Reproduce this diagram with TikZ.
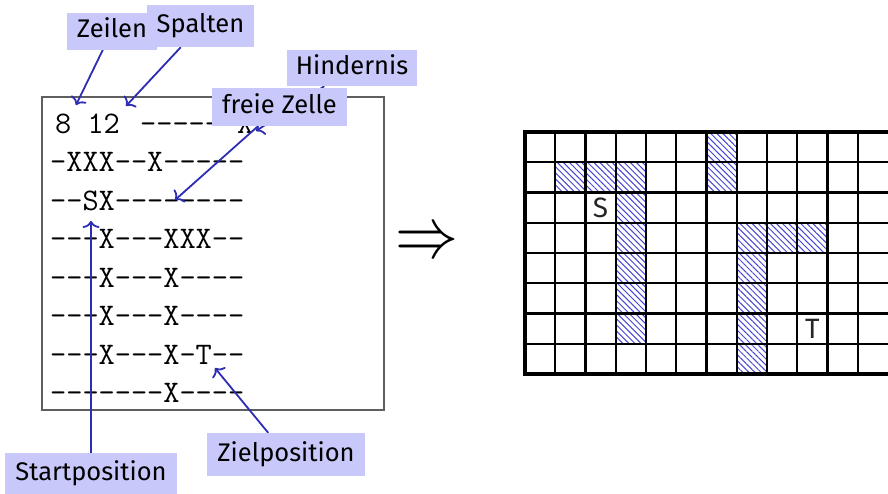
\documentclass[tikz,border=0pt]{standalone}
\usepackage{fontspec}
\usepackage{graphicx}
\setmainfont{Fira Sans}
\usetikzlibrary{arrows.meta,patterns.meta}

\definecolor{lblfill}{RGB}{200,200,250}
\definecolor{calloutblue}{RGB}{45,45,180}
\definecolor{hatchblue}{RGB}{70,70,210}
\definecolor{framegray}{RGB}{95,95,95}

\pgfdeclarelayer{foreground}
\pgfsetlayers{main,foreground}

\tikzset{
  lbl/.style={fill=lblfill, inner sep=0pt, text height=18.5pt, text depth=5.5pt,
    font=\fontsize{25.5}{25.5}\selectfont},
  callout/.style={draw=calloutblue, line width=1.8pt, -{To[length=7pt,width=17pt]}},
  maprow/.style={anchor=base west, inner sep=0pt,
    font=\ttfamily\fontsize{31.4}{31.4}\selectfont},
  gridline/.style={line width=2.3pt, black},
  blocked/.style={pattern={Lines[angle=-45,distance=4.3pt,line width=1pt]},
    pattern color=hatchblue},
  cellmark/.style={inner sep=0pt, font=\fontsize{28}{28}\selectfont, text=black!85},
}

\begin{document}
\begin{tikzpicture}[x=1pt,y=-1pt]
\useasboundingbox (0,0) rectangle (888,493);

% input file listing
\node[draw=framegray, line width=1.2pt, minimum width=342pt, minimum height=313pt,
  inner sep=0pt] (listing) at (213,253.5) {};
\node[maprow] (dims) at (55,133) {8 12};
\node[maprow] (row1) at (140,133) {------X-----};
\node[maprow] (row2) at (50,171.5) {-XXX--X-----};
\node[maprow] (row3) at (50,210) {--SX--------};
\node[maprow] (row4) at (50,248.5) {---X---XXX--};
\node[maprow] (row5) at (50,287) {---X---X----};
\node[maprow] (row6) at (50,325.5) {---X---X----};
\node[maprow] (row7) at (50,364) {---X---X-T--};
\node[maprow] (row8) at (50,402.5) {-------X----};

% implication sign
\node[inner sep=0pt] (implies) at (426.5,244) {\scalebox{6.3}[7.2]{$\Rightarrow$}};

% occupancy grid: blocked cells first, then the lines
\foreach \r/\c in {1/7,2/2,2/3,2/4,2/7,3/4,4/4,4/8,4/9,4/10,5/4,5/8,6/4,6/8,7/4,7/8,8/8}
  \fill[blocked] ({525+(\c-1)*30.25},{132+(\r-1)*30.25}) rectangle ++(30.25,30.25);
\foreach \i in {1,...,11}
  \draw[gridline] ({525+\i*30.25},132) -- ({525+\i*30.25},374);
\foreach \j in {1,...,7}
  \draw[gridline] (525,{132+\j*30.25}) -- (895,{132+\j*30.25});
\draw[line width=4.6pt] (525,132) rectangle (893,374);
\node[cellmark] (start) at (600.6,208) {S};
\node[cellmark] (target) at (812.4,329) {T};

% labels
\begin{pgfonlayer}{foreground}
\node[lbl, minimum width=90pt, minimum height=37pt] (zeilen) at (112,31) {Zeilen};
\node[lbl, minimum width=107pt, minimum height=42pt] (spalten) at (200.5,26) {Spalten};
\node[lbl, minimum width=130pt, minimum height=36pt] (hindernis) at (352,68) {Hindernis};
\node[lbl, minimum width=135pt, minimum height=38pt] (freie) at (279.5,107) {freie Zelle};
\node[lbl, minimum width=158pt, minimum height=43pt] (ziel) at (286,454.5) {Zielposition};
\node[lbl, minimum width=172pt, minimum height=42pt] (startlbl) at (91,474) {Startposition};
\end{pgfonlayer}

% callout tips
\coordinate (rowsTip) at (76,105);
\coordinate (colsTip) at (126,106);
\coordinate (obstTip) at (256,131);
\coordinate (freeTip) at (175,200);
\coordinate (startTip) at (91,221);
\coordinate (goalTip) at (215,368);

\draw[callout] (zeilen) -- (rowsTip);
\draw[callout] (spalten) -- (colsTip);
\draw[callout] (hindernis) -- (obstTip);
\draw[callout] (freie) -- (freeTip);
\draw[callout] (startlbl) -- (startTip);
\draw[callout] (ziel) -- (goalTip);
\end{tikzpicture}
\end{document}
